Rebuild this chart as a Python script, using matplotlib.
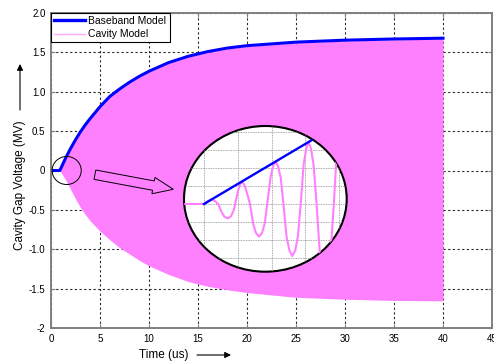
import matplotlib
matplotlib.use('Agg')
import matplotlib.pyplot as plt
from matplotlib.patches import Ellipse, FancyArrow, FancyArrowPatch
from matplotlib.lines import Line2D
from matplotlib.transforms import Affine2D

plt.rcParams['font.family'] = ['Liberation Sans', 'DejaVu Sans']

# baseband envelope (blue)
t_base = [0, 0.9, 1.5, 2, 2.5, 3, 3.5, 4, 5, 6, 7, 8, 9, 10, 12, 14, 16, 18,
          20, 25, 30, 35, 40]
v_base = [0, 0, 0.16, 0.28, 0.39, 0.49, 0.58, 0.66, 0.81, 0.94, 1.035, 1.12,
          1.195, 1.26, 1.37, 1.45, 1.51, 1.555, 1.585, 1.63, 1.655, 1.67, 1.68]

# cavity model: upper / lower envelope of the fast oscillation (magenta)
t_cav = [0, 0.9, 1.5, 2, 2.5, 3, 3.5, 4, 5, 6, 7, 8, 9, 10, 12, 14, 16, 18,
         20, 25, 30, 35, 40]
v_cav_hi = [0, 0, 0.15, 0.27, 0.38, 0.48, 0.57, 0.65, 0.80, 0.93, 1.025, 1.11,
            1.185, 1.25, 1.36, 1.44, 1.50, 1.545, 1.575, 1.62, 1.645, 1.66, 1.67]
v_cav_lo = [0, 0, -0.12, -0.24, -0.36, -0.47, -0.56, -0.64, -0.77, -0.88, -0.98,
            -1.06, -1.14, -1.21, -1.32, -1.41, -1.47, -1.515, -1.55, -1.61,
            -1.635, -1.65, -1.655]

xticks = [0, 5, 10, 15, 20, 25, 30, 35, 40, 45]
yticks = [-2, -1.5, -1, -0.5, 0, 0.5, 1, 1.5, 2]
ytick_labels = ['-2', '-1.5', '-1.0', '-0.5', '0', '0.5', '1.0', '1.5', '2.0']

# zoomed view near turn-on (grid units of the inset)
zoom_x = [-1.0, 0.03, 0.13, 0.23, 0.33, 0.42, 0.52, 0.60, 0.70, 0.80, 0.88, 0.92,
          1.01, 1.07, 1.13, 1.19, 1.26, 1.36, 1.46, 1.54, 1.63, 1.72, 1.80, 1.87,
          1.97, 2.05, 2.12, 2.19, 2.27, 2.35, 2.44, 2.53, 2.61, 2.70, 2.78, 2.86,
          2.95, 3.03, 3.09, 3.16, 3.24, 3.33, 3.42, 3.50, 3.58, 3.67, 3.75, 3.84,
          3.93, 4.01, 4.07]
zoom_y = [0, 0, 0.18, 0.26, 0.15, 0.0, -0.45, -0.70, -0.80, -0.68, -0.35, 0.0,
          0.75, 1.10, 1.24, 1.07, 0.70, 0.0, -1.15, -1.62, -1.81, -1.60, -1.05, 0.0,
          1.50, 2.15, 2.36, 2.10, 1.45, 0.0, -1.80, -2.60, -2.89, -2.58, -1.75, 0.0,
          2.25, 3.12, 3.42, 3.10, 2.20, 0.0, -2.60, -3.55, -3.90, -3.50, -2.55, 0.0,
          3.00, 4.10, 4.50]
zoom_base_x = [0, 4.0]
zoom_base_y = [0, 4.45]

W, H = 494, 363
fig = plt.figure(figsize=(W / 100, H / 100), dpi=100)
px = Affine2D().scale(1 / W, -1 / H).translate(0, 1) + fig.transFigure

ax = fig.add_axes([51 / W, 1 - 328 / H, 441 / W, 315 / H])
ax.fill_between(t_cav, v_cav_lo, v_cav_hi, color='#ff80ff', lw=0)
ax.plot(t_base, v_base, color='#0000ff', lw=2.2)
ax.set_xlim(0, 45)
ax.set_ylim(-2, 2)
ax.set_xticks(xticks)
ax.set_yticks(yticks)
ax.set_yticklabels(ytick_labels)
ax.set_axisbelow(True)
ax.grid(True, color='0.15', linestyle=(0, (2, 2.2)), linewidth=0.8)
ax.tick_params(direction='in', length=3, width=0.8, color='0.5', labelsize=7,
               top=True, right=True, pad=4)
for s in ax.spines.values():
    s.set_color('0.5')
    s.set_linewidth(1.4)

handles = [Line2D([], [], color='#0000ff', lw=2.4),
           Line2D([], [], color='#ffa8ff', lw=1.0)]
leg = ax.legend(handles, ['Baseband Model', 'Cavity Model'], loc='upper left',
                borderaxespad=0, fontsize=7.5, fancybox=False, framealpha=1,
                edgecolor='black', handlelength=3.0, handletextpad=0.3,
                labelspacing=0.3, borderpad=0.3)
leg.get_frame().set_linewidth(0.8)

# small circle around the turn-on point
ax.add_patch(Ellipse((1.6, 0), 2.97, 0.356, facecolor='none', edgecolor='black',
                     lw=0.7, zorder=5))

# outlined block arrow pointing to the zoom
fig.add_artist(FancyArrow(94.9, 174.7, 78.4, 14.6, width=9.5, head_width=16.6,
                          head_length=20.2, length_includes_head=True,
                          facecolor='none', edgecolor='black', lw=0.7,
                          transform=px))

# inset zoom inside an ellipse
ins = fig.add_axes([184 / W, 1 - 271.7 / H, 162.7 / W, 145.7 / H])
ins.set_xlim(-0.59, 4.22)
ins.set_ylim(-3.76, 4.33)
ins.axis('off')
clip = Ellipse((0.5, 0.5), 1, 1, transform=ins.transAxes, facecolor='white',
               edgecolor='none')
ins.add_patch(clip)
for gx in range(0, 5):
    ln = ins.axvline(gx, color='0.55', ls=(0, (1, 1)), lw=0.6)
    ln.set_clip_path(clip)
for gy in range(-3, 5):
    ln = ins.axhline(gy, color='0.55', ls=(0, (1, 1)), lw=0.6)
    ln.set_clip_path(clip)
l1, = ins.plot(zoom_x, zoom_y, color='#ff80ff', lw=1.5)
l2, = ins.plot(zoom_base_x, zoom_base_y, color='#0000ff', lw=1.7)
l1.set_clip_path(clip)
l2.set_clip_path(clip)
ins.add_patch(Ellipse((0.5, 0.5), 1, 1, transform=ins.transAxes,
                      facecolor='none', edgecolor='black', lw=1.5, clip_on=False))

# axis labels with arrows
fig.text(163.5, 355, 'Time (us)', transform=px, ha='center', va='center',
         fontsize=8.5)
fig.add_artist(FancyArrowPatch((197, 355), (231, 355), transform=px,
                               arrowstyle='-|>', mutation_scale=9, lw=0.8,
                               color='black', shrinkA=0, shrinkB=0))
fig.text(20, 185, 'Cavity Gap Voltage (MV)', transform=px, ha='center',
         va='center', rotation=90, fontsize=8.5)
fig.add_artist(FancyArrowPatch((20, 110), (20, 64), transform=px,
                               arrowstyle='-|>', mutation_scale=9, lw=0.8,
                               color='black', shrinkA=0, shrinkB=0))

fig.savefig('out.png', dpi=100)
